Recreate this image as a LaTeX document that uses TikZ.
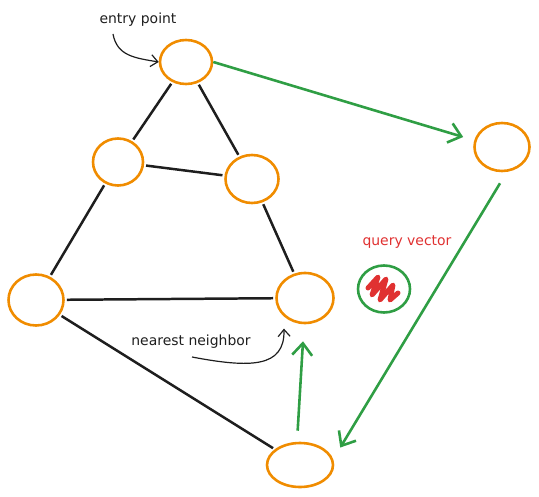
\documentclass[tikz,border=0pt]{standalone}
\usepackage{fontspec}
\setmainfont{DejaVu Sans}
\usetikzlibrary{shapes.geometric,arrows.meta}
\definecolor{vorange}{HTML}{F08C00}
\definecolor{vgreen}{HTML}{2F9E44}
\definecolor{vred}{HTML}{E03131}
\definecolor{vink}{HTML}{1E1E1E}
\begin{document}
\begin{tikzpicture}[x=1bp,y=-1bp,
  vertex/.style={ellipse,draw=vorange,line width=2.6pt,inner sep=0pt},
  link/.style={draw=vink,line width=2.5pt,shorten <=2pt,shorten >=2pt},
  hop/.style={draw=vgreen,line width=2.6pt,-{Straight Barb[length=12pt,width=20pt,line width=2.6pt]}},
  pointer/.style={draw=vink,line width=1.2pt,-{Straight Barb[length=7pt,width=12pt,line width=1.2pt]}},
  note/.style={font=\fontsize{14}{16}\selectfont,text=vink}]
\useasboundingbox (0,0) rectangle (539,497);
\node[vertex,minimum width=52bp,minimum height=44bp] (A) at (186,62) {};
\node[vertex,minimum width=55bp,minimum height=48bp] (B) at (502,147) {};
\node[vertex,minimum width=50bp,minimum height=47bp] (C) at (118,162) {};
\node[vertex,minimum width=53bp,minimum height=48bp] (D) at (252,179) {};
\node[vertex,minimum width=55bp,minimum height=51bp] (E) at (36,300) {};
\node[vertex,minimum width=57bp,minimum height=50bp] (F) at (305,298) {};
\node[vertex,minimum width=66bp,minimum height=44bp] (G) at (300,465) {};
\node[ellipse,draw=vgreen,line width=2.6pt,minimum width=52bp,minimum height=47bp] (Q) at (384,289) {};
% graph edges
\draw[link] (A) -- (C);
\draw[link] (A) -- (D);
\draw[link] (C) -- (D);
\draw[link] (C) -- (E);
\draw[link] (D) -- (F);
\draw[link] (E) -- (F);
\draw[link] (E) -- (G);
% search path
\draw[hop] (A.east) -- ([xshift=-10bp,yshift=10bp]B.west);
\draw[hop] ([xshift=-2bp,yshift=-11bp]B.south) -- ([xshift=16bp,yshift=1bp]G.north east);
\draw[hop,shorten <=11bp,shorten >=17bp] ([xshift=-3bp]G.north) -- ([xshift=-1bp]F.south);
% query
\draw[vred,line width=5pt,line join=round,line cap=round] (368,288) -- (378,277) -- (372,295) -- (386,279) -- (380,300) -- (393,285) -- (390,300) -- (398,293);
\node[note,text=vred] (qlabel) at (407,242) {query vector};
% labels
\node[note] (entry) at (138,20) {entry point};
\node[note] (nearest) at (191,342) {nearest neighbor};
\coordinate (e0) at (113,34);
\coordinate (n0) at (192,357);
\draw[pointer] (e0) .. controls (117,56) and (135,58) .. (A.west);
\draw[pointer] (n0) .. controls (250,368) and (285,368) .. ([yshift=-12bp]F.south west);
\end{tikzpicture}
\end{document}
